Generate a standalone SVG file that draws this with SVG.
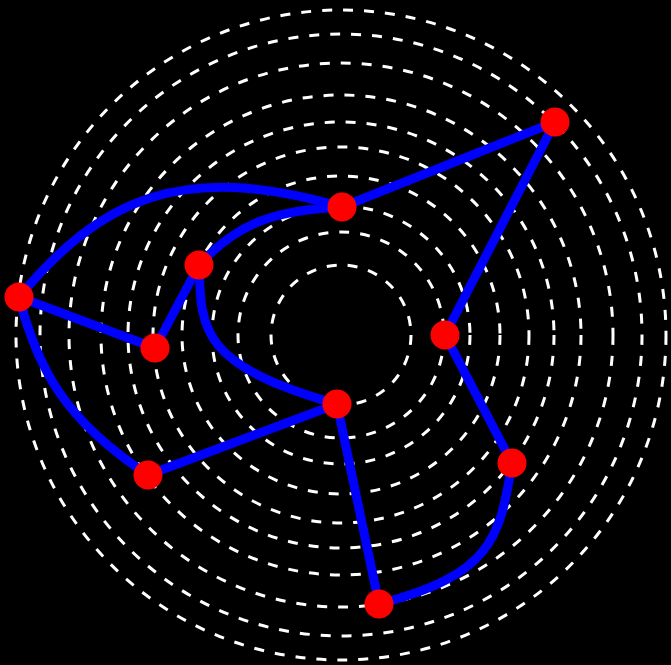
<svg xmlns="http://www.w3.org/2000/svg" width="671" height="665" viewBox="0 0 671 665">
<style>
.ring{fill:none;stroke:#fff;stroke-width:3;stroke-dasharray:10 11}
.edge{fill:none;stroke:#0000ff;stroke-width:9;stroke-linecap:round}
.node{fill:#ff0000}
</style>
<rect width="671" height="665" fill="#000"/>
<g id="rings">
<circle class="ring" cx="341" cy="335" r="70"/>
<circle class="ring" cx="341" cy="335" r="103"/>
<circle class="ring" cx="341" cy="335" r="129"/>
<circle class="ring" cx="341" cy="335" r="159"/>
<circle class="ring" cx="341" cy="335" r="188"/>
<circle class="ring" cx="341" cy="335" r="213"/>
<circle class="ring" cx="341" cy="335" r="240"/>
<circle class="ring" cx="341" cy="335" r="272"/>
<circle class="ring" cx="341" cy="335" r="301"/>
<circle class="ring" cx="341" cy="335" r="325"/>
</g>
<g id="connectors">
<path class="edge" d="M555,122 L342,207"/>
<path class="edge" d="M555,122 L445,335"/>
<path class="edge" d="M19,297 C100,200 180,160 342,207"/>
<path class="edge" d="M342,207 C280,210 240,220 199,265"/>
<path class="edge" d="M199,265 L155,348"/>
<path class="edge" d="M19,297 L155,348"/>
<path class="edge" d="M199,265 C201,330 200,365 337,404"/>
<path class="edge" d="M19,297 C38,370 65,420 148,475"/>
<path class="edge" d="M148,475 L337,404"/>
<path class="edge" d="M337,404 L379,604"/>
<path class="edge" d="M445,335 L512,463"/>
<path class="edge" d="M512,463 C500,540 490,575 379,604"/>
</g>
<g id="n1"><circle class="node" cx="555" cy="122" r="14.5"/></g>
<g id="n2"><circle class="node" cx="342" cy="207" r="14.5"/></g>
<g id="n3"><circle class="node" cx="199" cy="265" r="14.5"/></g>
<g id="n4"><circle class="node" cx="19" cy="297" r="14.5"/></g>
<g id="n5"><circle class="node" cx="155" cy="348" r="14.5"/></g>
<g id="n6"><circle class="node" cx="445" cy="335" r="14.5"/></g>
<g id="n7"><circle class="node" cx="337" cy="404" r="14.5"/></g>
<g id="n8"><circle class="node" cx="148" cy="475" r="14.5"/></g>
<g id="n9"><circle class="node" cx="512" cy="463" r="14.5"/></g>
<g id="n10"><circle class="node" cx="379" cy="604" r="14.5"/></g>
</svg>
